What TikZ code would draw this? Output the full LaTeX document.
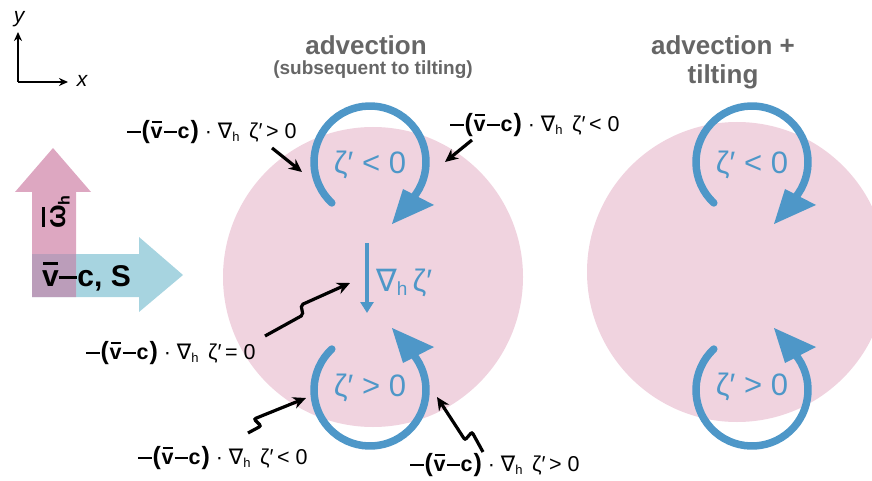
\documentclass[tikz,border=0pt]{standalone}
\usepackage{fontspec}
\setmainfont{Liberation Sans}
\newfontfamily\dvs{DejaVu Sans}
\usetikzlibrary{arrows.meta}
\definecolor{pinkbg}{HTML}{F0D3DF}
\definecolor{vblue}{HTML}{4E97C8}
\definecolor{apink}{HTML}{DDA7C1}
\definecolor{ablue}{HTML}{A7D4E0}
\definecolor{apurp}{HTML}{BB9DBA}
\definecolor{tgray}{HTML}{666666}
\newcommand{\mydash}{\rule[0.27em]{0.62em}{0.1em}}
\newcommand{\barred}[1]{\setbox0\hbox{#1}\rlap{\hbox to \wd0{\hss\rule[0.74em]{0.85\wd0}{0.08em}\hss}}\box0}
\newcommand{\advt}[1]{{\bfseries\mydash\kern0.04em{\fontsize{25}{25}\selectfont(}\kern0.04em\barred{v}\kern0.04em\mydash\kern0.04em c\kern0.04em{\fontsize{25}{25}\selectfont)}}\ ·\ {\dvs ∇}\raisebox{-0.12em}{\fontsize{13}{13}\selectfont h}\ \,ζ′\,#1}
\tikzset{
  lbl/.style={font=\fontsize{21.5}{24}\selectfont, inner sep=0pt},
  title/.style={font=\fontsize{26}{28}\selectfont\bfseries, text=tgray, inner sep=0pt},
  subt/.style={font=\fontsize{19}{22}\selectfont\bfseries, text=tgray, inner sep=0pt},
  vtext/.style={font=\fontsize{31}{31}\selectfont, text=vblue, inner sep=0pt},
  blk/.style={-{Stealth[length=13pt,width=12pt]}, line width=3.2pt, rounded corners=2pt},
  axisarrow/.style={-{Stealth[length=9pt,width=8pt]}, line width=2.8pt},
  vort/.pic={
    \draw[vblue, line width=7.5pt, line cap=round] (133:56) arc[start angle=133, end angle=400, radius=56];
    \fill[vblue] (22,62) -- (33,27) -- (64,43) -- cycle;
  }
}
\begin{document}
\begin{tikzpicture}[x=1pt,y=-1pt]
\useasboundingbox (0,0) rectangle (872,481);
\clip (0,0) rectangle (872,481);

% circles
\fill[pinkbg] (373,277) circle[radius=150];
\fill[pinkbg] (737,272) circle[radius=150];

% axes
\coordinate (o) at (18,82);
\coordinate (ya) at (18,32);
\coordinate (xa) at (68,82);
\draw[axisarrow] (o) -- (ya);
\draw[axisarrow] (o) -- (xa);
\node[font=\fontsize{21}{21}\selectfont\itshape, inner sep=0pt] (ylab) at (19,19) {y};
\node[font=\fontsize{21}{21}\selectfont\itshape, inner sep=0pt] (xlab) at (82,81) {x};

% left wide arrows
\fill[ablue] (32,254) -- (139,254) -- (139,237) -- (183,275) -- (139,312) -- (139,297) -- (32,297) -- cycle;
\fill[apink] (32,297) -- (32,192) -- (15,192) -- (53,148) -- (91,192) -- (76,192) -- (76,297) -- cycle;
\fill[apurp] (32,254) rectangle (76,297);
\node[font=\fontsize{30}{30}\selectfont\bfseries, inner sep=0pt, anchor=west] (vcs) at (42,277) {\barred{v}\mydash c, S};
\node[font=\fontsize{28}{28}\selectfont\bfseries, inner sep=0pt, rotate=90] (omh) at (56,212) {\barred{ω}\raisebox{-0.15em}{\fontsize{16}{16}\selectfont h}};

% titles
\node[title] (t1) at (366,45) {advection};
\node[subt] (t1b) at (373,70) {(subsequent to tilting)};
\node[title] (t2) at (723,45) {advection +};
\node[title] (t2b) at (723,77) {tilting};

% vortices
\pic at (370,162) {vort};
\pic[yscale=-1] at (370,390) {vort};
\pic at (752,162) {vort};
\pic[yscale=-1] at (752,390) {vort};
\node[vtext] (z1) at (370,165) {ζ′ < 0};
\node[vtext] (z2) at (370,388) {ζ′ > 0};
\node[vtext] (z3) at (752,165) {ζ′ < 0};
\node[vtext] (z4) at (752,387) {ζ′ > 0};

% gradient arrow
\coordinate (g1) at (367,243);
\coordinate (g2) at (367,313);
\draw[vblue, line width=3.5pt, -{Triangle[length=11pt,width=13pt]}] (g1) -- (g2);
\node[anchor=west, inner sep=0pt, text=vblue, font=\fontsize{31}{31}\selectfont] (grad) at (376,283) {{\dvs ∇}\raisebox{-0.12em}{\fontsize{19}{19}\selectfont h}\,ζ′};

% labels
\node[lbl] (l1) at (212,132) {\advt{> 0}};
\node[lbl] (l2) at (535,125) {\advt{< 0}};
\node[lbl] (l3) at (171,353) {\advt{= 0}};
\node[lbl] (l4) at (223,458) {\advt{< 0}};
\node[lbl] (l5) at (495,465) {\advt{> 0}};

% black arrows
\coordinate (a1s) at (272,148); \coordinate (a1e) at (302,172);
\coordinate (a2s) at (472,140); \coordinate (a2e) at (445,162);
\coordinate (a3s) at (265,336); \coordinate (a3e) at (350,283);
\coordinate (a4s) at (248,433); \coordinate (a4e) at (306,398);
\coordinate (a5s) at (483,452); \coordinate (a5e) at (437,397);
\draw[blk] (a1s) -- (a1e);
\draw[blk] (a2s) -- (a2e);
\draw[blk] (a3s) -- (303,315) -- (301,305) -- (a3e);
\draw[blk] (a4s) -- (261,426) -- (254,419) -- (a4e);
\draw[blk] (a5s) -- (472,432) -- (465,440) -- (a5e);
\end{tikzpicture}
\end{document}
